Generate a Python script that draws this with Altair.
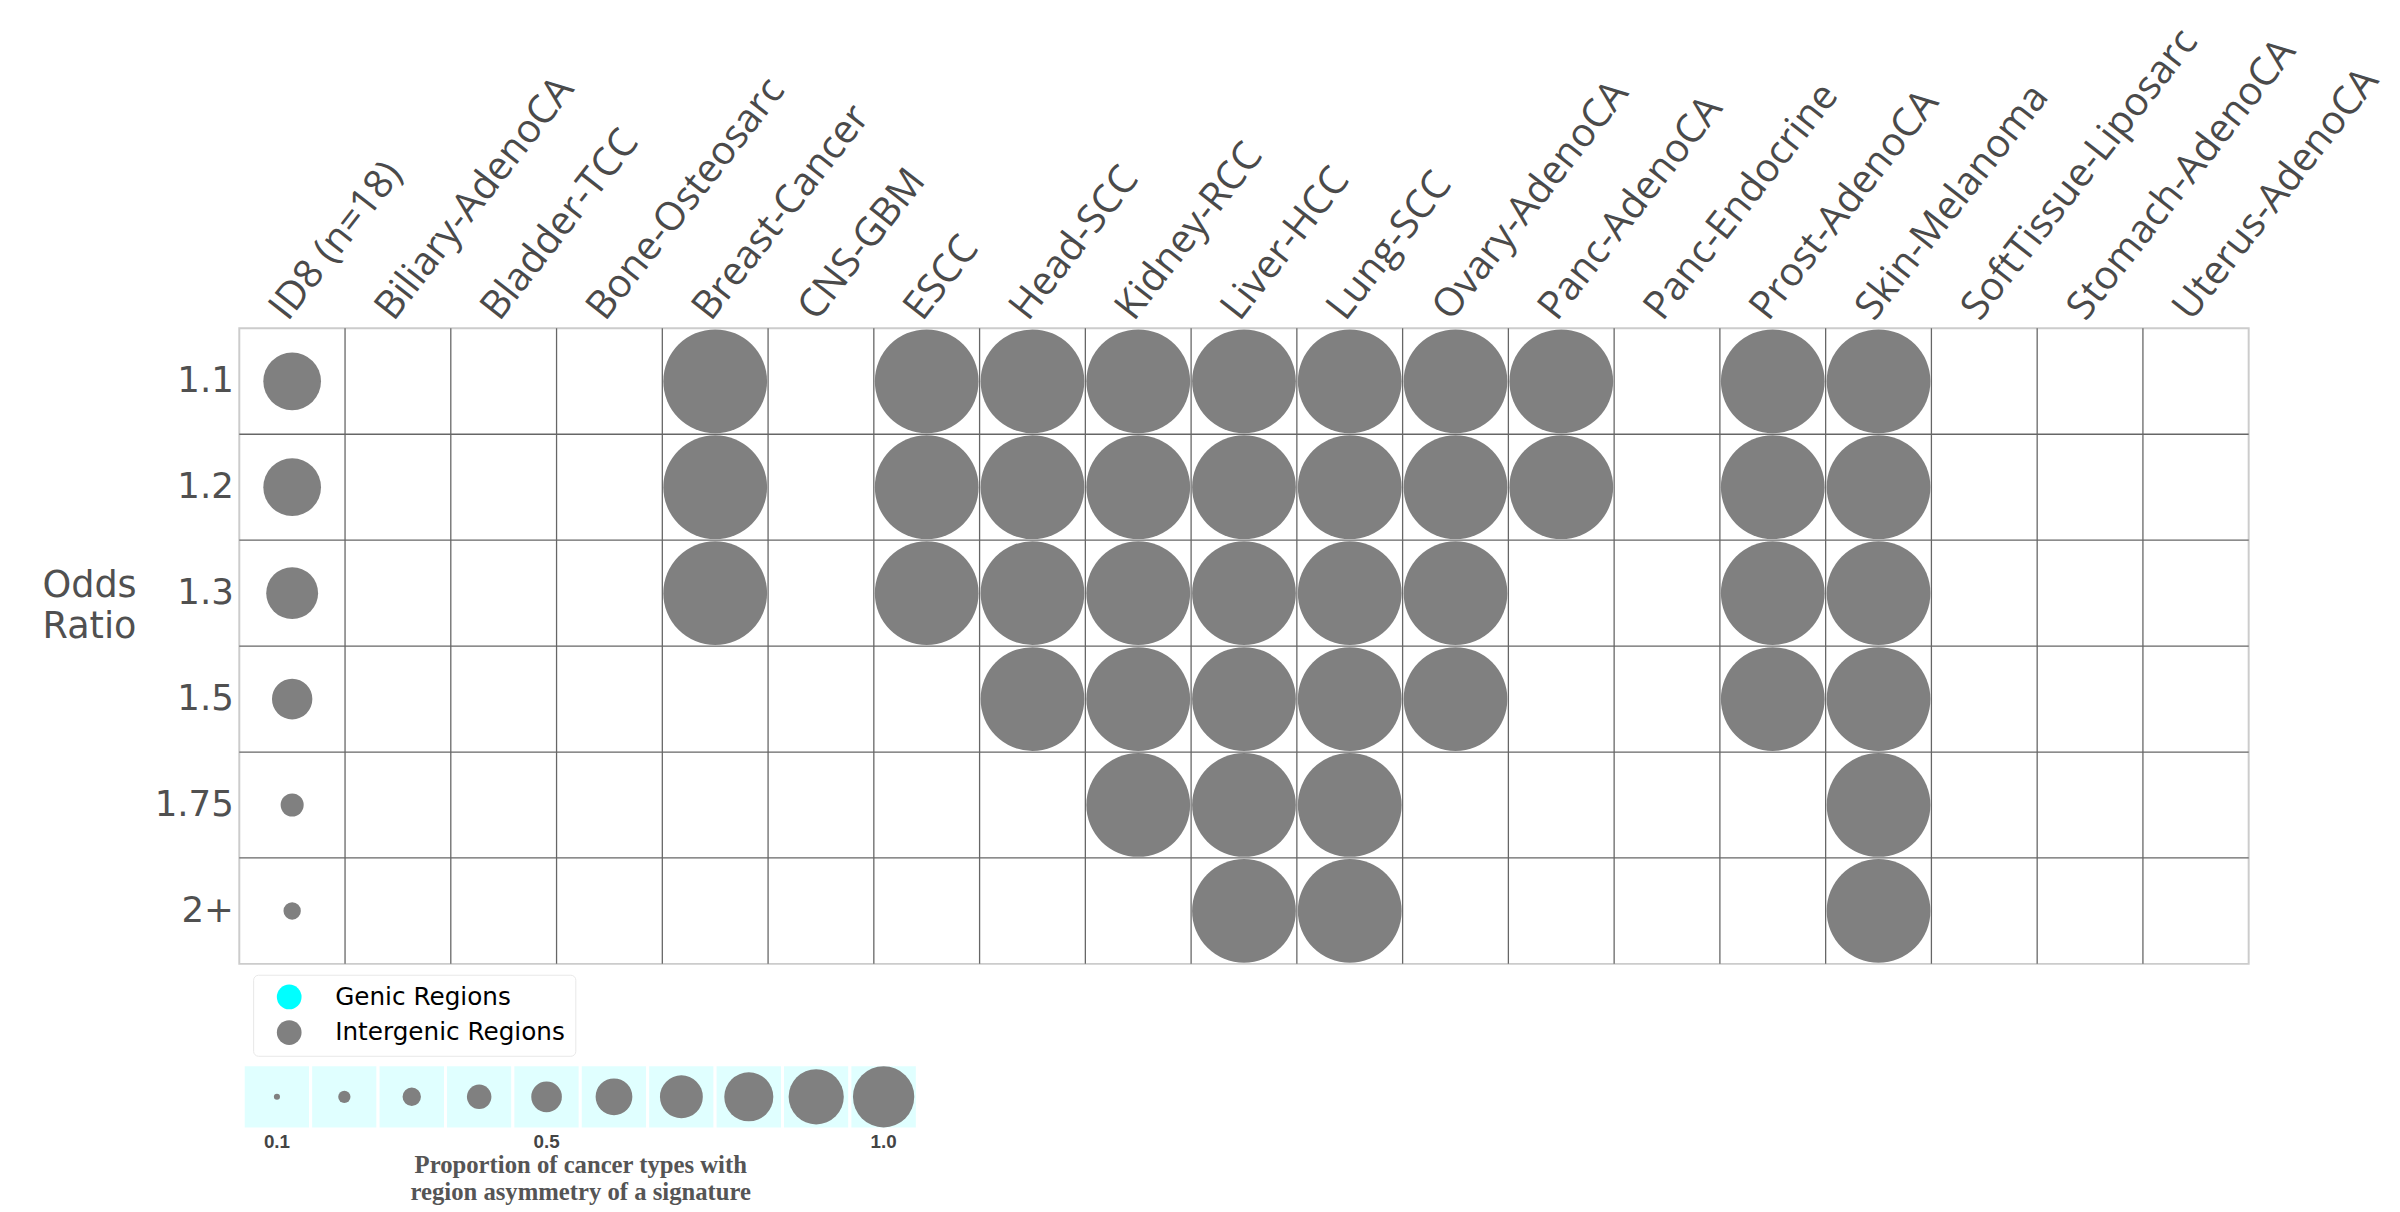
import altair as alt
import pandas as pd

cancer_types = ["ID8 (n=18)", "Biliary-AdenoCA", "Bladder-TCC", "Bone-Osteosarc", "Breast-Cancer",
                "CNS-GBM", "ESCC", "Head-SCC", "Kidney-RCC", "Liver-HCC", "Lung-SCC",
                "Ovary-AdenoCA", "Panc-AdenoCA", "Panc-Endocrine", "Prost-AdenoCA",
                "Skin-Melanoma", "SoftTissue-Liposarc", "Stomach-AdenoCA", "Uterus-AdenoCA"]
odds_ratios = ["1.1", "1.2", "1.3", "1.5", "1.75", "2+"]
id8_proportion = [0.556, 0.556, 0.5, 0.389, 0.222, 0.167]
present = {
    "1.1": ["Breast-Cancer", "ESCC", "Head-SCC", "Kidney-RCC", "Liver-HCC", "Lung-SCC",
            "Ovary-AdenoCA", "Panc-AdenoCA", "Prost-AdenoCA", "Skin-Melanoma"],
    "1.2": ["Breast-Cancer", "ESCC", "Head-SCC", "Kidney-RCC", "Liver-HCC", "Lung-SCC",
            "Ovary-AdenoCA", "Panc-AdenoCA", "Prost-AdenoCA", "Skin-Melanoma"],
    "1.3": ["Breast-Cancer", "ESCC", "Head-SCC", "Kidney-RCC", "Liver-HCC", "Lung-SCC",
            "Ovary-AdenoCA", "Prost-AdenoCA", "Skin-Melanoma"],
    "1.5": ["Head-SCC", "Kidney-RCC", "Liver-HCC", "Lung-SCC", "Ovary-AdenoCA",
            "Prost-AdenoCA", "Skin-Melanoma"],
    "1.75": ["Kidney-RCC", "Liver-HCC", "Lung-SCC", "Skin-Melanoma"],
    "2+": ["Liver-HCC", "Lung-SCC", "Skin-Melanoma"],
}
region_names = ["Genic Regions", "Intergenic Regions"]
region_colors = ["#00ffff", "#808080"]
legend_props = [0.1, 0.2, 0.3, 0.4, 0.5, 0.6, 0.7, 0.8, 0.9, 1.0]
legend_labels = ["0.1", "0.2", "0.3", "0.4", "0.5", "0.6", "0.7", "0.8", "0.9", "1.0"]
legend_shown = ["0.1", "0.5", "1.0"]

rows = []
for o, p in zip(odds_ratios, id8_proportion):
    rows.append({"type": cancer_types[0], "odds": o, "value": p, "region": "Intergenic Regions"})
    for t in present[o]:
        rows.append({"type": t, "odds": o, "value": 1.0, "region": "Intergenic Regions"})
df = pd.DataFrame(rows)
col_lines = pd.DataFrame({"type": cancer_types[1:]})
row_lines = pd.DataFrame({"odds": odds_ratios[1:]})

x_scale = alt.Scale(type="band", domain=cancer_types, paddingInner=0, paddingOuter=0)
y_scale = alt.Scale(type="band", domain=odds_ratios, paddingInner=0, paddingOuter=0)
x_axis = alt.Axis(orient="top", title=None, domain=False, ticks=False, grid=False,
                  labelAngle=-52, labelAlign="left", labelBaseline="middle",
                  labelFont="Open Sans", labelFontSize=40, labelColor="#4a4a4a",
                  labelPadding=14, labelOffset=-14, labelLimit=0)
y_axis = alt.Axis(orient="left", domain=False, ticks=False, grid=False,
                  labelFont="DejaVu Sans", labelFontSize=36, labelColor="#505050",
                  labelPadding=6, title=["Odds", "Ratio"], titleAngle=0,
                  titleFont="DejaVu Sans", titleFontSize=37, titleFontWeight="normal",
                  titleColor="#505050", titleX=-152, titleY=260, titleAlign="center",
                  titleBaseline="middle", titleLineHeight=42)

vlines = alt.Chart(col_lines).mark_rule(color="#666666", strokeWidth=1.3).encode(
    x=alt.X("type:N", bandPosition=0, scale=x_scale, axis=x_axis))
hlines = alt.Chart(row_lines).mark_rule(color="#666666", strokeWidth=1.3).encode(
    y=alt.Y("odds:N", bandPosition=0, scale=y_scale, axis=y_axis))
dots = alt.Chart(df).mark_circle(opacity=1).encode(
    x=alt.X("type:N", scale=x_scale, axis=x_axis),
    y=alt.Y("odds:N", scale=y_scale, axis=y_axis),
    size=alt.Size("value:Q", scale=alt.Scale(type="pow", exponent=2, domain=[0, 1], range=[0, 11025]),
                  legend=None),
    color=alt.Color("region:N", scale=alt.Scale(domain=region_names, range=region_colors),
                    legend=alt.Legend(title=None, orient="none", legendX=14, legendY=654,
                                      direction="vertical", symbolType="circle", symbolSize=625,
                                      symbolStrokeWidth=0, symbolOpacity=1,
                                      labelFont="DejaVu Sans", labelFontSize=25, labelColor="#000000",
                                      labelOffset=34, symbolOffset=14, rowPadding=10, padding=10,
                                      strokeColor="#e8e8e8", fillColor="#ffffff", cornerRadius=5,
                                      labelLimit=0)),
)
main = alt.layer(vlines, hlines, dots).properties(
    width=2033, height=643,
    view=alt.ViewBackground(stroke="#cccccc", strokeWidth=2))

leg_df = pd.DataFrame({"label": legend_labels, "p": legend_props})
lx = alt.X("label:N", sort=legend_labels,
           scale=alt.Scale(type="band", domain=legend_labels, paddingInner=0, paddingOuter=0,
                           range=[4, 686]),
           axis=alt.Axis(orient="bottom", domain=False, ticks=False, grid=False, labelAngle=0,
                         labelExpr="indexof(" + str(legend_shown) + ", datum.label) >= 0 ? datum.label : ''",
                         labelFont="Liberation Sans", labelFontWeight="bold", labelFontSize=19,
                         labelColor="#444444", labelPadding=4,
                         title=["Proportion of cancer types with", "region asymmetry of a signature"],
                         titleFont="Liberation Serif", titleFontWeight="bold", titleFontSize=25,
                         titleColor="#555555", titlePadding=1, titleLineHeight=27))
cells = alt.Chart(leg_df).mark_rect(color="#e0ffff", stroke="#ffffff", strokeWidth=3).encode(x=lx)
ldots = alt.Chart(leg_df).mark_circle(color="#808080", opacity=1).encode(
    x=lx,
    size=alt.Size("p:Q", scale=alt.Scale(type="pow", exponent=2, domain=[0, 1], range=[0, 3844]),
                  legend=None))
size_leg = alt.layer(cells, ldots).properties(
    width=686, height=65, view=alt.ViewBackground(strokeOpacity=0))

chart = alt.vconcat(main, size_leg, spacing=5).resolve_scale(
    color="independent", size="independent").properties(
    padding={"left": 33, "top": 5, "right": 5, "bottom": 5})

chart.save("out.html", embed_options={"renderer": "svg", "actions": False})
